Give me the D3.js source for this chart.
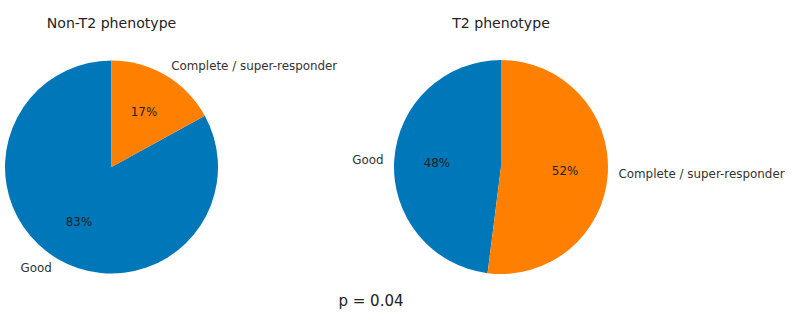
<!DOCTYPE html>
<html><head><meta charset="utf-8">
<script src="https://cdn.jsdelivr.net/npm/d3@7"></script>
<style>body{margin:0;background:#fff}text{font-family:"DejaVu Sans",sans-serif}</style>
</head><body><svg id="c" width="792" height="322"></svg>
<script>
const categories = ["Good", "Complete / super-responder"];
const titles = ["Non-T2 phenotype", "T2 phenotype"];
const nonT2Values = [83, 17];
const t2Values = [48, 52];
const pValueLabel = "p = 0.04";
const colors = ["#0077b8", "#ff8000"];

const svg = d3.select("#c");
const panels = [
  {title: titles[0], values: nonT2Values, cx: 111.5, cy: 167, r: 106.5},
  {title: titles[1], values: t2Values, cx: 501, cy: 167, r: 107}
];
const pie = d3.pie().sort(null).startAngle(0).endAngle(-2*Math.PI);
panels.forEach(p => {
  const g = svg.append("g").attr("transform", `translate(${p.cx},${p.cy})`);
  const arcs = pie(p.values);
  const arc = d3.arc().innerRadius(0).outerRadius(p.r);
  g.selectAll("path").data(arcs).join("path")
    .attr("d", arc).attr("fill", (d,i) => colors[i]);
  const total = d3.sum(p.values);
  arcs.forEach((d,i) => {
    const mid = (d.startAngle + d.endAngle)/2;
    const sx = Math.sin(mid), sy = -Math.cos(mid);
    const lx = sx * p.r * 1.1, ly = sy * p.r * 1.1;
    g.append("text").attr("x", lx).attr("y", ly)
      .attr("text-anchor", sx < 0 ? "end" : "start")
      .attr("dominant-baseline", "central")
      .attr("font-size", 11.9).attr("fill", "#333")
      .text(categories[i]);
    g.append("text").attr("x", sx*p.r*0.6).attr("y", sy*p.r*0.6)
      .attr("text-anchor", "middle").attr("dominant-baseline", "central")
      .attr("font-size", 11.9).attr("fill", "#222")
      .text(Math.round(d.data/total*100) + "%");
  });
  svg.append("text").attr("x", p.cx).attr("y", 27.5)
    .attr("text-anchor", "middle").attr("font-size", 14.1).attr("fill", "#222")
    .text(p.title);
});
svg.append("text").attr("x", 371).attr("y", 306).attr("text-anchor", "middle")
  .attr("font-size", 15).attr("fill", "#222").text(pValueLabel);
</script></body></html>
